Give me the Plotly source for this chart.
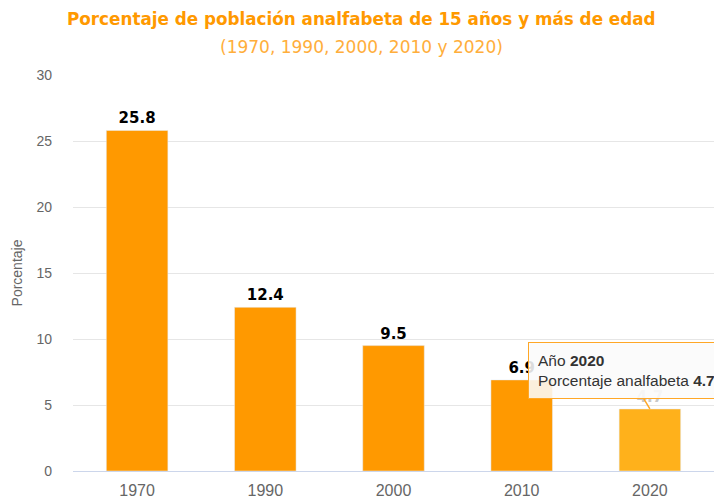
import plotly.graph_objects as go

years = ["1970", "1990", "2000", "2010", "2020"]
values = [25.8, 12.4, 9.5, 6.9, 4.7]
bar_colors = ["#FF9900", "#FF9900", "#FF9900", "#FF9900", "#FFB11B"]
label_colors = ["#000000", "#000000", "#000000", "#000000", "#C8C8C8"]
y_ticks = [0, 5, 10, 15, 20, 25, 30]
hover_index = 4

title_text = "Porcentaje de población analfabeta de 15 años y más de edad"
subtitle_text = "(1970, 1990, 2000, 2010 y 2020)"

fig = go.Figure()
fig.add_trace(go.Bar(
    x=years, y=values,
    marker=dict(color=bar_colors),
    text=[f"<b>{v}</b>" for v in values],
    textposition="outside",
    cliponaxis=False,
    textfont=dict(family="DejaVu Sans", size=15, color=label_colors),
    hoverinfo="skip",
))

fig.update_layout(
    width=714, height=499,
    margin=dict(l=73, r=0, t=75, b=28, autoexpand=False),
    paper_bgcolor="white", plot_bgcolor="white",
    showlegend=False,
    bargap=0.52,
    font=dict(family="Liberation Sans, Arial, sans-serif", color="#666666"),
    xaxis=dict(
        type="category",
        range=[-0.5, len(years) - 0.5],
        showgrid=False,
        showline=True, linecolor="#CCD6EB", linewidth=1,
        ticks="", tickfont=dict(size=16, color="#666666"),
        ticklabelstandoff=5,
        automargin=False,
        fixedrange=True,
    ),
    yaxis=dict(
        range=[0, 30],
        tickvals=y_ticks,
        showgrid=True, gridcolor="#E6E6E6", gridwidth=1,
        zeroline=False,
        tickfont=dict(size=14, color="#666666"),
        ticklabelstandoff=20,
        automargin=False,
        title=dict(text="Porcentaje", font=dict(size=14, color="#666666"), standoff=10),
        fixedrange=True,
    ),
)

fig.add_annotation(
    xref="paper", yref="paper", x=0.45, y=1.0,
    xanchor="center", yanchor="bottom", yshift=44,
    text=f"<b>{title_text}</b>", showarrow=False,
    font=dict(family="DejaVu Sans", size=16.8, color="#FF9900"),
)
fig.add_annotation(
    xref="paper", yref="paper", x=0.45, y=1.0,
    xanchor="center", yanchor="bottom", yshift=16,
    text=subtitle_text, showarrow=False,
    font=dict(family="DejaVu Sans", size=17, color="#FFAE3B"),
)

# tooltip-style callout for the hovered 2020 bar
fig.add_annotation(
    x=hover_index, y=values[hover_index],
    text=f"Año <b>{years[hover_index]}</b><br>Porcentaje analfabeta <b>{values[hover_index]}</b>",
    align="left",
    showarrow=True, arrowhead=0, arrowwidth=1.5, arrowcolor="#FFA726",
    ax=-23, ay=-38,
    bgcolor="rgba(250,250,250,0.88)", bordercolor="#FFA726", borderwidth=1, borderpad=9,
    font=dict(family="Liberation Sans, Arial, sans-serif", size=15.5, color="#333333"),
)

fig.write_html(
    "out.html",
    config={"displayModeBar": False, "responsive": False},
    post_script="document.body.style.margin='0';document.body.style.overflow='hidden';",
)
